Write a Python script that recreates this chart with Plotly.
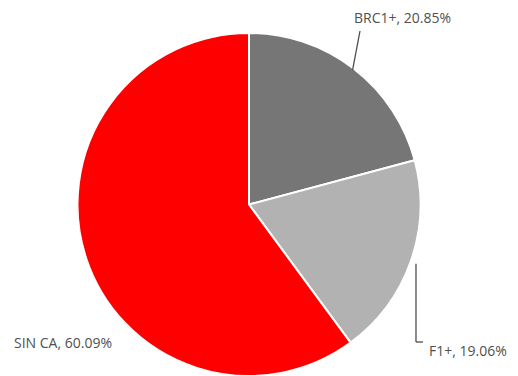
import math
import plotly.graph_objects as go

# Share of each category (percent)
labels = ["BRC1+", "F1+", "SIN CA"]
values = [20.85, 19.06, 60.09]
colors = ["#767676", "#b2b2b2", "#ff0000"]

W, H = 518, 376
CX, CY, R = 249, 205, 172          # pie centre and radius in pixels

fig = go.Figure(go.Pie(
    labels=labels,
    values=values,
    sort=False,
    direction="clockwise",
    rotation=0,
    textinfo="none",
    hoverinfo="label+percent",
    marker=dict(colors=colors, line=dict(color="white", width=2)),
    domain=dict(x=[(CX - R) / W, (CX + R) / W],
                y=[max(0, 1 - (CY + R) / H), 1 - (CY - R) / H]),
    showlegend=False,
))


def px(x, y):
    return x / W, 1 - y / H


def mid_point(i, r):
    total = sum(values)
    start = sum(values[:i]) / total
    ang = 2 * math.pi * (start + values[i] / total / 2)
    return CX + r * math.sin(ang), CY - r * math.cos(ang)


font = dict(family="Open Sans, Arial, sans-serif", size=14, color="#505050")
line = dict(color="#4d4d4d", width=1.3)

# BRC1+ label with a straight leader line
bx, by = mid_point(0, R - 2)
x0, y0 = px(bx, by)
x1, y1 = px(360, 31)
fig.add_shape(type="line", xref="paper", yref="paper", x0=x0, y0=y0, x1=x1, y1=y1, line=line)
fig.add_annotation(x=px(402, 18)[0], y=px(402, 18)[1], xref="paper", yref="paper",
                   text=f"{labels[0]}, {values[0]:.2f}%", showarrow=False, font=font,
                   xanchor="center", yanchor="middle")

# F1+ label with an elbow leader line
fx, fy = mid_point(1, R + 5)
ex, ey = fx, 342
for (a, b), (c, d) in [((fx, fy), (ex, ey)), ((ex, ey), (423, ey))]:
    p0, p1 = px(a, b), px(c, d)
    fig.add_shape(type="line", xref="paper", yref="paper",
                  x0=p0[0], y0=p0[1], x1=p1[0], y1=p1[1], line=line)
fig.add_annotation(x=px(427, 350)[0], y=px(427, 350)[1], xref="paper", yref="paper",
                   text=f"{labels[1]}, {values[1]:.2f}%", showarrow=False, font=font,
                   xanchor="left", yanchor="middle")

# SIN CA label
fig.add_annotation(x=px(12, 342)[0], y=px(12, 342)[1], xref="paper", yref="paper",
                   text=f"{labels[2]}, {values[2]:.2f}%", showarrow=False, font=font,
                   xanchor="left", yanchor="middle")

fig.update_layout(
    width=W, height=H,
    margin=dict(l=0, r=0, t=0, b=0),
    paper_bgcolor="white",
    plot_bgcolor="white",
)

fig.write_html("out.html")
